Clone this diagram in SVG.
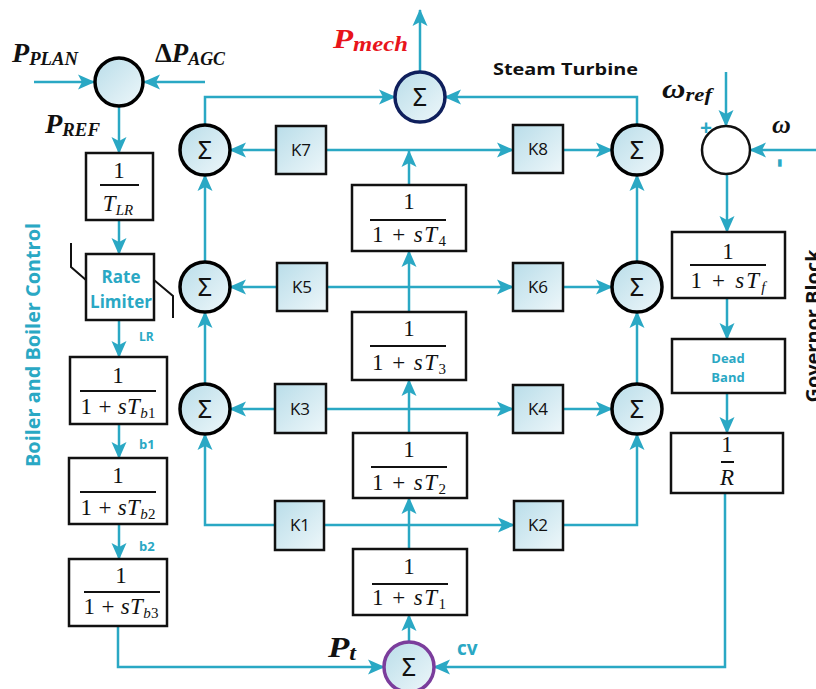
<svg xmlns="http://www.w3.org/2000/svg" width="816" height="689" viewBox="0 0 816 689">
<defs>
<linearGradient id="gb" x1="0" y1="0" x2="1" y2="1">
<stop offset="0" stop-color="#b9dde9"/>
<stop offset="1" stop-color="#eef7fa"/>
</linearGradient>
<marker id="ah" markerWidth="17" markerHeight="17" refX="16" refY="8.5" orient="auto" markerUnits="userSpaceOnUse">
<path d="M0,1 L17,8.5 L0,16 L4,8.5 z" fill="#2aa8c4"/>
</marker>
<style>
.c{fill:none;stroke:#2aa8c4;stroke-width:2.5}
.a{marker-end:url(#ah)}
.sum{fill:url(#gb);stroke:#000;stroke-width:3.5}
.k{fill:url(#gb);stroke:#111;stroke-width:2.5}
.bx{fill:#fff;stroke:#111;stroke-width:2.5}
.sig{font-family:"Noto Sans","DejaVu Sans",sans-serif;font-size:25px;fill:#111;text-anchor:middle}
.kt{font-family:"Open Sans","Noto Sans",sans-serif;font-size:17px;fill:#111;text-anchor:middle}
.m{font-family:"Liberation Serif","DejaVu Serif",serif;font-size:23px;fill:#111;text-anchor:middle}
.fl{stroke:#111;stroke-width:2}
.var{font-family:"Liberation Serif","DejaVu Serif",serif;font-weight:bold;font-style:italic;fill:#111}
.tl{font-family:"Open Sans","Noto Sans",sans-serif;font-weight:bold;fill:#2aa8c4}
.i{font-style:italic}
</style>
</defs>

<g id="connectors">
<line class="c a" x1="34" y1="82" x2="94" y2="82"/>
<line class="c a" x1="205" y1="82" x2="144" y2="82"/>
<line class="c a" x1="119" y1="106" x2="119" y2="153"/>
<line class="c a" x1="119" y1="220" x2="119" y2="254"/>
<line class="c a" x1="119" y1="320" x2="119" y2="357"/>
<line class="c a" x1="119" y1="424" x2="119" y2="458"/>
<line class="c a" x1="119" y1="524" x2="119" y2="559"/>
<path class="c a" d="M118,626 V667 H384"/>
<line class="c a" x1="409" y1="642" x2="409" y2="615"/>
<line class="c a" x1="409" y1="549" x2="409" y2="498"/>
<line class="c" x1="409" y1="525" x2="324" y2="525"/>
<path class="c a" d="M275,525 H205 V434"/>
<line class="c a" x1="409" y1="525" x2="514" y2="525"/>
<path class="c a" d="M563,525 H637 V434"/>
<line class="c a" x1="409" y1="433" x2="409" y2="380"/>
<line class="c" x1="409" y1="409" x2="326" y2="409"/>
<line class="c a" x1="275" y1="409" x2="230" y2="409"/>
<line class="c a" x1="409" y1="409" x2="513" y2="409"/>
<line class="c a" x1="563" y1="409" x2="612" y2="409"/>
<line class="c a" x1="409" y1="312" x2="409" y2="251"/>
<line class="c" x1="409" y1="287" x2="326" y2="287"/>
<line class="c a" x1="276" y1="287" x2="230" y2="287"/>
<line class="c a" x1="409" y1="287" x2="513" y2="287"/>
<line class="c a" x1="563" y1="287" x2="612" y2="287"/>
<line class="c a" x1="409" y1="185" x2="409" y2="151"/>
<line class="c a" x1="326" y1="150" x2="513" y2="150"/>
<line class="c a" x1="276" y1="150" x2="230" y2="150"/>
<line class="c a" x1="563" y1="150" x2="612" y2="150"/>
<line class="c a" x1="205" y1="384" x2="205" y2="312"/>
<line class="c a" x1="205" y1="262" x2="205" y2="175"/>
<path class="c a" d="M205,125 V97 H395"/>
<line class="c a" x1="637" y1="384" x2="637" y2="312"/>
<line class="c a" x1="637" y1="262" x2="637" y2="175"/>
<path class="c a" d="M637,125 V97 H445"/>
<line class="c a" x1="420" y1="72" x2="420" y2="10"/>
<line class="c a" x1="726" y1="72" x2="726" y2="126"/>
<line class="c a" x1="816" y1="150" x2="750" y2="150"/>
<line class="c a" x1="727" y1="174" x2="727" y2="232"/>
<line class="c a" x1="727" y1="298" x2="727" y2="339"/>
<line class="c a" x1="727" y1="393" x2="727" y2="433"/>
<path class="c a" d="M725,493 V667 H434"/>
</g>

<g id="plan-sum"><circle class="sum" cx="119" cy="82" r="24"/></g>
<g id="labels-top">
<text class="var" x="12" y="62" font-size="27" textLength="66" lengthAdjust="spacingAndGlyphs">P<tspan font-size="18" dy="3">PLAN</tspan></text>
<text class="var" x="155" y="62" font-size="27" textLength="70" lengthAdjust="spacingAndGlyphs"><tspan font-style="normal">Δ</tspan>P<tspan font-size="18" dy="3">AGC</tspan></text>
<text class="var" x="45" y="133" font-size="27" textLength="55" lengthAdjust="spacingAndGlyphs">P<tspan font-size="18" dy="3">REF</tspan></text>
</g>

<g id="tlr">
<rect class="bx" x="86" y="153" width="67" height="67"/>
<text class="m" x="119" y="178">1</text>
<line class="fl" x1="100" y1="185" x2="139" y2="185"/>
<text class="m" x="118" y="211"><tspan class="i">T</tspan><tspan font-size="15" dy="4" class="i">LR</tspan></text>
</g>

<g id="rate-limiter">
<rect class="bx" x="86" y="254" width="68" height="66"/>
<polyline points="71,243 71,267 86,280" fill="none" stroke="#111" stroke-width="2"/>
<polyline points="154,280 173,296 173,318" fill="none" stroke="#111" stroke-width="2"/>
<text class="tl" x="121" y="283" font-size="17" text-anchor="middle">Rate</text>
<text class="tl" x="121" y="308" font-size="17" text-anchor="middle">Limiter</text>
<text class="tl" x="139" y="341" font-size="12">LR</text>
</g>

<g id="tb1">
<rect class="bx" x="70" y="357" width="97" height="67"/>
<text class="m" x="118" y="383">1</text>
<line class="fl" x1="80" y1="391" x2="156" y2="391"/>
<text class="m" x="118" y="414" textLength="75" lengthAdjust="spacing">1 + <tspan class="i">sT</tspan><tspan font-size="15" dy="4"><tspan class="i">b</tspan>1</tspan></text>
<text class="tl" x="139" y="449" font-size="13">b1</text>
</g>
<g id="tb2">
<rect class="bx" x="69" y="458" width="98" height="66"/>
<text class="m" x="118" y="483">1</text>
<line class="fl" x1="80" y1="492" x2="156" y2="492"/>
<text class="m" x="118" y="515" textLength="75" lengthAdjust="spacing">1 + <tspan class="i">sT</tspan><tspan font-size="15" dy="4"><tspan class="i">b</tspan>2</tspan></text>
<text class="tl" x="139" y="551" font-size="13">b2</text>
</g>
<g id="tb3">
<rect class="bx" x="69" y="559" width="98" height="67"/>
<text class="m" x="121" y="583">1</text>
<line class="fl" x1="84" y1="592" x2="160" y2="592"/>
<text class="m" x="121" y="614" textLength="75" lengthAdjust="spacing">1 + <tspan class="i">sT</tspan><tspan font-size="15" dy="4"><tspan class="i">b</tspan>3</tspan></text>
</g>
<text class="tl" transform="translate(40,345) rotate(-90)" font-size="19" text-anchor="middle" textLength="244" lengthAdjust="spacingAndGlyphs">Boiler and Boiler Control</text>

<g id="sum-l1"><circle class="sum" cx="205" cy="150" r="25"/><text class="sig" x="205" y="159">Σ</text></g>
<g id="sum-l2"><circle class="sum" cx="205" cy="287" r="25"/><text class="sig" x="205" y="296">Σ</text></g>
<g id="sum-l3"><circle class="sum" cx="205" cy="409" r="25"/><text class="sig" x="205" y="418">Σ</text></g>
<g id="sum-r1"><circle class="sum" cx="637" cy="150" r="25"/><text class="sig" x="637" y="159">Σ</text></g>
<g id="sum-r2"><circle class="sum" cx="637" cy="287" r="25"/><text class="sig" x="637" y="296">Σ</text></g>
<g id="sum-r3"><circle class="sum" cx="637" cy="409" r="25"/><text class="sig" x="637" y="418">Σ</text></g>

<g id="k7"><rect class="k" x="276" y="126" width="50" height="48"/><text class="kt" x="301" y="156">K7</text></g>
<g id="k8"><rect class="k" x="513" y="125" width="50" height="48"/><text class="kt" x="538" y="155">K8</text></g>
<g id="k5"><rect class="k" x="277" y="263" width="50" height="48"/><text class="kt" x="302" y="293">K5</text></g>
<g id="k6"><rect class="k" x="513" y="263" width="50" height="48"/><text class="kt" x="538" y="293">K6</text></g>
<g id="k3"><rect class="k" x="275" y="384" width="51" height="49" stroke-width="3.5"/><text class="kt" x="300" y="415">K3</text></g>
<g id="k4"><rect class="k" x="513" y="385" width="50" height="48"/><text class="kt" x="538" y="415">K4</text></g>
<g id="k1"><rect class="k" x="275" y="501" width="49" height="49"/><text class="kt" x="300" y="531">K1</text></g>
<g id="k2"><rect class="k" x="514" y="501" width="49" height="49"/><text class="kt" x="538" y="531">K2</text></g>

<g id="t4">
<rect class="bx" x="352" y="185" width="114" height="66"/>
<text class="m" x="409" y="209">1</text>
<line class="fl" x1="370" y1="220" x2="446" y2="220"/>
<text class="m" x="409" y="242" textLength="74" lengthAdjust="spacing">1 + <tspan class="i">sT</tspan><tspan font-size="15" dy="4">4</tspan></text>
</g>
<g id="t3">
<rect class="bx" x="352" y="312" width="114" height="68"/>
<text class="m" x="409" y="336">1</text>
<line class="fl" x1="370" y1="346" x2="446" y2="346"/>
<text class="m" x="409" y="370" textLength="74" lengthAdjust="spacing">1 + <tspan class="i">sT</tspan><tspan font-size="15" dy="4">3</tspan></text>
</g>
<g id="t2">
<rect class="bx" x="353" y="433" width="114" height="65"/>
<text class="m" x="409" y="457">1</text>
<line class="fl" x1="371" y1="467" x2="447" y2="467"/>
<text class="m" x="409" y="490" textLength="74" lengthAdjust="spacing">1 + <tspan class="i">sT</tspan><tspan font-size="15" dy="4">2</tspan></text>
</g>
<g id="t1">
<rect class="bx" x="353" y="549" width="114" height="66"/>
<text class="m" x="409" y="574">1</text>
<line class="fl" x1="372" y1="584" x2="448" y2="584"/>
<text class="m" x="409" y="605" textLength="74" lengthAdjust="spacing">1 + <tspan class="i">sT</tspan><tspan font-size="15" dy="4">1</tspan></text>
</g>

<g id="pt-sum">
<circle cx="409" cy="667" r="25" fill="url(#gb)" stroke="#7b3d9c" stroke-width="3.5"/>
<text class="sig" x="409" y="676">Σ</text>
</g>
<text class="var" x="328" y="657" font-size="29" textLength="28" lengthAdjust="spacingAndGlyphs">P<tspan font-size="20" dy="3">t</tspan></text>
<text class="tl" x="457" y="655" font-size="19">cv</text>

<g id="mech-sum">
<circle cx="420" cy="97" r="25" fill="url(#gb)" stroke="#0f1f5c" stroke-width="3.5"/>
<text class="sig" x="420" y="106">Σ</text>
</g>
<text class="var" x="333" y="48" font-size="28" textLength="75" lengthAdjust="spacingAndGlyphs" style="fill:#e8141b">P<tspan font-size="21" dy="3">mech</tspan></text>
<text x="493" y="75" font-family="'Open Sans','Noto Sans',sans-serif" font-weight="bold" font-size="16" fill="#111" textLength="145" lengthAdjust="spacingAndGlyphs">Steam Turbine</text>

<g id="gov-sum"><circle cx="726" cy="150" r="24" fill="#fff" stroke="#111" stroke-width="2.5"/></g>
<text class="var" x="662" y="98" font-size="27" textLength="50" lengthAdjust="spacingAndGlyphs">ω<tspan font-size="19" dy="3">ref</tspan></text>
<text class="var" x="772" y="133" font-size="26">ω</text>
<text class="tl" x="706" y="135" font-size="21" text-anchor="middle">+</text>
<text class="tl" transform="translate(772,163) rotate(90)" font-size="28" text-anchor="middle">-</text>

<g id="tf">
<rect class="bx" x="672" y="232" width="113" height="66"/>
<text class="m" x="728" y="259">1</text>
<line class="fl" x1="690" y1="265" x2="766" y2="265"/>
<text class="m" x="728" y="288" textLength="75" lengthAdjust="spacing">1 + <tspan class="i">sT</tspan><tspan font-size="15" dy="4" class="i">f</tspan></text>
</g>
<g id="dead-band">
<rect class="bx" x="672" y="339" width="113" height="54"/>
<text class="tl" x="728" y="363" font-size="13" text-anchor="middle">Dead</text>
<text class="tl" x="728" y="382" font-size="13" text-anchor="middle">Band</text>
</g>
<g id="r">
<rect class="bx" x="671" y="433" width="112" height="60"/>
<text class="m" x="727" y="452">1</text>
<line class="fl" x1="721" y1="462" x2="734" y2="462"/>
<text class="m i" x="727" y="485">R</text>
</g>
<text transform="translate(820,326) rotate(-90)" font-family="'Open Sans','Noto Sans',sans-serif" font-weight="bold" font-size="19" fill="#111" text-anchor="middle" textLength="153" lengthAdjust="spacingAndGlyphs">Governor Block</text>
</svg>
